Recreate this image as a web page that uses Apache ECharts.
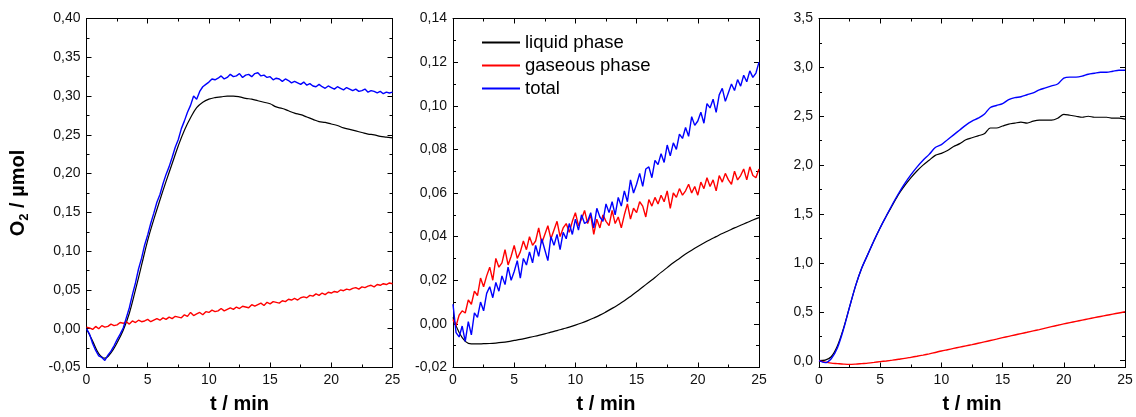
<!DOCTYPE html>
<html><head><meta charset="utf-8">
<script src="https://cdn.jsdelivr.net/npm/echarts@6/dist/echarts.min.js"></script>
<style>html,body{margin:0;padding:0;background:#fff}#c{width:1136px;height:417px}</style>
</head><body><div id="c"></div><script>
// ---- data ----
const T4 = [0,0.25,0.5,0.75,1,1.25,1.5,1.75,2,2.25,2.5,2.75,3,3.25,3.5,3.75,4,4.25,4.5,4.75,5,5.25,5.5,5.75,6,6.25,6.5,6.75,7,7.25,7.5,7.75,8,8.25,8.5,8.75,9,9.25,9.5,9.75,10,10.25,10.5,10.75,11,11.25,11.5,11.75,12,12.25,12.5,12.75,13,13.25,13.5,13.75,14,14.25,14.5,14.75,15,15.25,15.5,15.75,16,16.25,16.5,16.75,17,17.25,17.5,17.75,18,18.25,18.5,18.75,19,19.25,19.5,19.75,20,20.25,20.5,20.75,21,21.25,21.5,21.75,22,22.25,22.5,22.75,23,23.25,23.5,23.75,24,24.25,24.5,24.75,25];
const T2 = [0,0.5,1,1.5,2,2.5,3,3.5,4,4.5,5,5.5,6,6.5,7,7.5,8,8.5,9,9.5,10,10.5,11,11.5,12,12.5,13,13.5,14,14.5,15,15.5,16,16.5,17,17.5,18,18.5,19,19.5,20,20.5,21,21.5,22,22.5,23,23.5,24,24.5,25];

const seriesNames = ['liquid phase', 'gaseous phase', 'total'];

// panel 1 (sampled every 0.25 min for noisy, 0.5 min for liquid)
const p1Liquid = [0.000,-0.016,-0.032,-0.038,-0.031,-0.018,-0.002,0.020,0.050,0.082,0.114,0.141,0.166,0.190,0.213,0.236,0.256,0.272,0.285,0.292,0.296,0.298,0.299,0.300,0.300,0.299,0.297,0.296,0.294,0.292,0.290,0.286,0.284,0.281,0.278,0.276,0.273,0.270,0.267,0.266,0.264,0.262,0.259,0.257,0.255,0.253,0.251,0.250,0.248,0.247,0.246];
const p1Gas = [
0.002,0.001,-0.001,0.003, 0.000,0.004,0.002,0.003, 0.006,0.004,0.005,0.008, 0.007,0.009,0.006,0.010,
0.008,0.011,0.009,0.010, 0.012,0.009,0.011,0.013, 0.011,0.014,0.012,0.015, 0.013,0.016,0.015,0.014,
0.018,0.016,0.021,0.017, 0.019,0.021,0.018,0.022, 0.021,0.024,0.022,0.023, 0.026,0.023,0.025,0.027,
0.025,0.028,0.026,0.029, 0.028,0.027,0.031,0.029, 0.031,0.033,0.030,0.034, 0.032,0.035,0.034,0.033,
0.036,0.035,0.038,0.037, 0.039,0.037,0.040,0.041, 0.040,0.043,0.042,0.045, 0.043,0.046,0.044,0.047,
0.046,0.048,0.047,0.050, 0.049,0.051,0.050,0.052, 0.053,0.051,0.054,0.053, 0.055,0.056,0.054,0.057,
0.056,0.058,0.057,0.059, 0.058];
const p1Total = [
0.000,-0.007,-0.019,-0.028, -0.035,-0.037,-0.041,-0.034, -0.029,-0.022,-0.014,-0.007, 0.001,0.014,0.027,0.044,
0.059,0.077,0.091,0.108, 0.121,0.136,0.149,0.163, 0.173,0.187,0.199,0.209, 0.221,0.234,0.244,0.258,
0.268,0.279,0.288,0.300, 0.296,0.306,0.312,0.315, 0.318,0.322,0.321,0.323, 0.326,0.322,0.324,0.328,
0.325,0.326,0.329,0.324, 0.327,0.328,0.325,0.329, 0.330,0.326,0.327,0.324, 0.325,0.321,0.323,0.322,
0.319,0.322,0.320,0.317, 0.319,0.317,0.315,0.318, 0.314,0.316,0.313,0.312, 0.315,0.312,0.310,0.313,
0.311,0.309,0.312,0.310, 0.308,0.311,0.309,0.307, 0.309,0.306,0.307,0.309, 0.305,0.307,0.306,0.304,
0.306,0.303,0.305,0.304, 0.305];

// panel 2
const p2Liquid = [0.003,-0.004,-0.008,-0.0092,-0.0092,-0.0091,-0.009,-0.0088,-0.0085,-0.0081,-0.0076,-0.0071,-0.0065,-0.0059,-0.0053,-0.0046,-0.0038,-0.0031,-0.0023,-0.0015,-0.0006,0.0004,0.0015,0.0027,0.0040,0.0055,0.0071,0.0088,0.0106,0.0126,0.0147,0.0169,0.0191,0.0213,0.0236,0.0258,0.0280,0.0300,0.0320,0.0338,0.0355,0.0371,0.0386,0.0400,0.0414,0.0427,0.0440,0.0452,0.0464,0.0476,0.0487];
const p2Gas = [
0.002,-0.001,0.004,0.006, 0.005,0.011,0.009,0.015, 0.013,0.021,0.017,0.022, 0.026,0.020,0.030,0.026,
0.028,0.034,0.027,0.031, 0.036,0.030,0.033,0.038, 0.034,0.040,0.036,0.038, 0.044,0.037,0.041,0.045,
0.039,0.043,0.047,0.040, 0.044,0.046,0.042,0.047, 0.051,0.045,0.048,0.052, 0.046,0.050,0.041,0.048,
0.044,0.050,0.047,0.045, 0.052,0.046,0.049,0.044, 0.050,0.055,0.048,0.053, 0.051,0.056,0.054,0.049,
0.057,0.054,0.058,0.055, 0.059,0.056,0.061,0.053, 0.060,0.058,0.062,0.059, 0.061,0.064,0.060,0.063,
0.059,0.065,0.062,0.067, 0.063,0.066,0.061,0.068, 0.065,0.069,0.066,0.064, 0.070,0.066,0.068,0.071,
0.066,0.072,0.068,0.067, 0.071];
const p2Total = [
0.009,-0.004,-0.006,-0.001, -0.008,0.001,-0.005,0.005, 0.003,0.010,0.006,0.014, 0.017,0.012,0.019,0.015,
0.022,0.018,0.026,0.020, 0.024,0.029,0.021,0.030, 0.027,0.033,0.028,0.036, 0.031,0.039,0.034,0.029,
0.040,0.036,0.041,0.034, 0.042,0.039,0.046,0.041, 0.048,0.043,0.050,0.046, 0.047,0.051,0.044,0.053,
0.049,0.047,0.055,0.051, 0.056,0.050,0.058,0.054, 0.061,0.056,0.066,0.060, 0.064,0.069,0.063,0.071,
0.072,0.067,0.075,0.073, 0.078,0.074,0.082,0.077, 0.083,0.080,0.087,0.085, 0.090,0.086,0.095,0.091,
0.093,0.097,0.092,0.101, 0.099,0.103,0.097,0.105, 0.108,0.102,0.106,0.110, 0.107,0.112,0.109,0.114,
0.111,0.116,0.113,0.115, 0.120];

// panel 3 (every 0.5 min)
const p3Liquid = [0.00,0.005,0.04,0.15,0.33,0.55,0.77,0.95,1.09,1.23,1.36,1.48,1.59,1.70,1.79,1.87,1.94,2.00,2.05,2.10,2.12,2.15,2.19,2.22,2.26,2.28,2.30,2.32,2.38,2.38,2.40,2.42,2.43,2.44,2.43,2.45,2.46,2.46,2.46,2.48,2.52,2.51,2.50,2.49,2.50,2.49,2.49,2.49,2.48,2.48,2.47];
const p3Gas = [0.00,-0.015,-0.025,-0.03,-0.035,-0.038,-0.035,-0.03,-0.025,-0.018,-0.01,-0.003,0.005,0.014,0.023,0.034,0.045,0.057,0.07,0.084,0.099,0.112,0.125,0.138,0.151,0.164,0.178,0.192,0.206,0.22,0.235,0.249,0.263,0.277,0.29,0.304,0.318,0.333,0.348,0.362,0.376,0.389,0.402,0.415,0.428,0.44,0.452,0.464,0.476,0.488,0.50];
const p3Total = [0.00,-0.02,0.02,0.13,0.32,0.55,0.77,0.95,1.09,1.23,1.36,1.48,1.60,1.71,1.81,1.90,1.98,2.05,2.11,2.18,2.21,2.26,2.31,2.36,2.41,2.45,2.48,2.52,2.59,2.61,2.63,2.67,2.69,2.70,2.72,2.74,2.77,2.79,2.81,2.83,2.89,2.90,2.90,2.91,2.93,2.94,2.95,2.95,2.96,2.97,2.97];

const xTicks = [0, 5, 10, 15, 20, 25];
const p3MajorTicks = [0, 0.5, 1, 1.5, 2, 2.5, 3, 3.5];
const p3MinorTicks = [0.25, 0.75, 1.25, 1.75, 2.25, 2.75, 3.25];

// ---- chart ----
const F = "'Liberation Sans', Arial, Helvetica, sans-serif";
const colors = ['#000000', '#ff0000', '#0000ff'];
const grids = [
  {left: 86.5, top: 18.5, width: 306, height: 349},
  {left: 453, top: 18.5, width: 306, height: 349},
  {left: 819, top: 18.5, width: 306, height: 349}
].map(g => Object.assign({outerBoundsMode: 'none', containLabel: false}, g));

const axLine = {show: true, onZero: false, lineStyle: {color: '#000', width: 1}};
const tick = {show: true, inside: true, length: 5, lineStyle: {color: '#000', width: 1}};
const mtick = {show: true, splitNumber: 2, length: 3, lineStyle: {color: '#000', width: 1}};
const lbl = {color: '#111', fontSize: 14, fontFamily: F, margin: 6};

const xAxis = [];
for (let g = 0; g < 3; g++) {
  xAxis.push({type: 'value', gridIndex: g, min: xTicks[0], max: xTicks[xTicks.length - 1], interval: 5, position: 'bottom',
    axisLine: axLine, axisTick: tick, minorTick: mtick, splitLine: {show: false}, minorSplitLine: {show: false},
    axisLabel: Object.assign({}, lbl),
    name: 't / min', nameLocation: 'middle', nameGap: 27,
    nameTextStyle: {fontSize: 20, fontWeight: 'bold', color: '#000', fontFamily: F}});
  xAxis.push({type: 'value', gridIndex: g, min: 0, max: 25, interval: 5, position: 'top',
    axisLine: axLine, axisTick: tick, minorTick: mtick, splitLine: {show: false},
    axisLabel: {show: false}});
}

const fmt2 = v => v.toFixed(2).replace('.', ',');
const fmt1 = v => v.toFixed(1).replace('.', ',');

function yPair(g, min, max, interval, fmt, extra) {
  const left = Object.assign({type: 'value', gridIndex: g, min: min, max: max, interval: interval, position: 'left',
    axisLine: axLine, axisTick: tick, minorTick: mtick, splitLine: {show: false},
    axisLabel: Object.assign({formatter: fmt}, lbl)}, extra || {});
  const right = {type: 'value', gridIndex: g, min: min, max: max, interval: interval, position: 'right',
    axisLine: axLine, axisTick: tick, minorTick: mtick, splitLine: {show: false}, axisLabel: {show: false}};
  return [left, right];
}

const yAxis = [];
yAxis.push(...yPair(0, -0.05, 0.40, 0.05, fmt2, {
  name: '{b|O}{s|2}{b| / µmol}', nameLocation: 'middle', nameGap: 56,
  nameTextStyle: {rich: {
    b: {fontSize: 20, fontWeight: 'bold', fontFamily: F, color: '#000', lineHeight: 24},
    s: {fontSize: 13, fontWeight: 'bold', fontFamily: F, color: '#000', lineHeight: 14, verticalAlign: 'bottom'}
  }}
}));
yAxis.push(...yPair(1, -0.02, 0.14, 0.02, fmt2));
// panel 3: axis starts a bit below zero, ticks placed on custom values
const p3min = -0.07, p3max = 3.5;
yAxis.push({type: 'value', gridIndex: 2, min: p3min, max: p3max, position: 'left',
  axisLine: axLine, axisTick: Object.assign({customValues: p3MajorTicks}, tick), splitLine: {show: false},
  axisLabel: Object.assign({formatter: fmt1, customValues: p3MajorTicks}, lbl)});
yAxis.push({type: 'value', gridIndex: 2, min: p3min, max: p3max, position: 'right',
  axisLine: axLine, axisTick: Object.assign({customValues: p3MajorTicks}, tick), splitLine: {show: false},
  axisLabel: {show: false}});
yAxis.push({type: 'value', gridIndex: 2, min: p3min, max: p3max, position: 'left', offset: 0,
  axisLine: {show: false, onZero: false}, axisTick: {show: true, inside: true, length: 3, customValues: p3MinorTicks, lineStyle: {color: '#000'}},
  splitLine: {show: false}, axisLabel: {show: false, customValues: p3MinorTicks}});
yAxis.push({type: 'value', gridIndex: 2, min: p3min, max: p3max, position: 'right', offset: 0,
  axisLine: {show: false, onZero: false}, axisTick: {show: true, inside: true, length: 3, customValues: p3MinorTicks, lineStyle: {color: '#000'}},
  splitLine: {show: false}, axisLabel: {show: false, customValues: p3MinorTicks}});

const zip = (t, v) => t.map((x, i) => [x, v[i]]);
const panels = [
  {xi: 0, yi: 0, data: [zip(T2, p1Liquid), zip(T4, p1Gas), zip(T4, p1Total)], smooth: [0.4, false, false]},
  {xi: 2, yi: 2, data: [zip(T2, p2Liquid), zip(T4, p2Gas), zip(T4, p2Total)], smooth: [0.4, false, false]},
  {xi: 4, yi: 4, data: [zip(T2, p3Liquid), zip(T2, p3Gas), zip(T2, p3Total)], smooth: [0.3, 0.3, 0.3]}
];
const series = [];
panels.forEach(p => {
  p.data.forEach((d, k) => {
    series.push({type: 'line', name: seriesNames[k], xAxisIndex: p.xi, yAxisIndex: p.yi, data: d,
      showSymbol: false, symbol: 'none', smooth: p.smooth[k],
      lineStyle: {color: colors[k], width: k === 0 ? 1.2 : 1.4}, itemStyle: {color: colors[k]}});
  });
});

const chart = echarts.init(document.getElementById('c'), null, {renderer: 'canvas'});
chart.setOption({
  animation: false,
  backgroundColor: '#fff',
  grid: grids,
  xAxis: xAxis,
  yAxis: yAxis,
  legend: {show: true, orient: 'vertical', left: 477, top: 28, itemWidth: 38, itemHeight: 2, itemGap: 4,
    icon: 'rect', selectedMode: false,
    textStyle: {fontSize: 18.5, color: '#000', fontFamily: F, lineHeight: 19},
    data: seriesNames},
  series: series
});
</script></body></html>
